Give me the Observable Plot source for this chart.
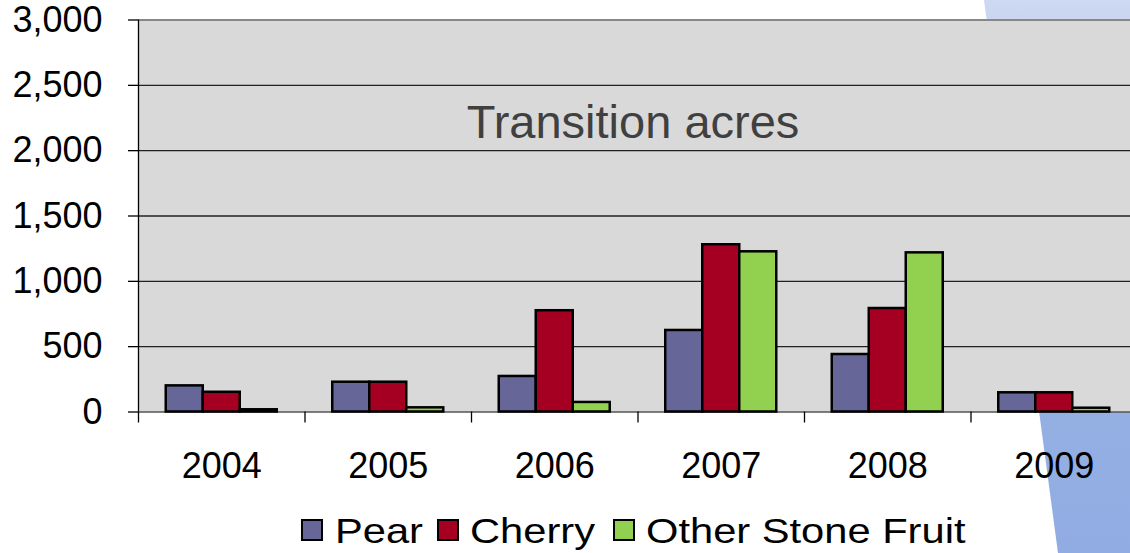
<!DOCTYPE html>
<html>
<head>
<meta charset="utf-8">
<script src="https://cdn.jsdelivr.net/npm/d3@7"></script>
<script src="https://cdn.jsdelivr.net/npm/@observablehq/plot@0.6"></script>
<style>
  html, body { margin: 0; padding: 0; background: #fff; }
  #wrap { position: relative; width: 1130px; height: 553px; overflow: hidden; font-family: "Liberation Sans", Arial, sans-serif; }
  #bg { position: absolute; left: 0; top: 0; }
  #chart { position: absolute; left: 0; top: 0; width: 1141px; }
  #chart svg { max-width: none !important; width: 1141px; height: 490px; }
  #legend { position: absolute; left: 0; top: 0; width: 1130px; height: 553px; pointer-events: none; }
  .sw { position: absolute; top: 519px; width: 18px; height: 18px; border: 2.5px solid #000; }
  .lt { position: absolute; top: 511px; font-size: 35px; line-height: 40px; transform: scaleX(1.19); transform-origin: left center; white-space: nowrap; color: #000; }
</style>
</head>
<body>
<div id="wrap">
  <svg id="bg" width="1130" height="553">
    <defs>
      <linearGradient id="g" x1="0" y1="0" x2="0" y2="1">
        <stop offset="0" stop-color="#cdd8f1"/>
        <stop offset="0.7" stop-color="#95b0e3"/>
        <stop offset="1" stop-color="#90ace2"/>
      </linearGradient>
    </defs>
    <polygon points="984,0 1130,0 1130,553 1058,553" fill="url(#g)"/>
  </svg>
  <div id="chart"></div>
  <div id="legend"></div>
</div>
<script>
// ---- data ----
const years = ["2004", "2005", "2006", "2007", "2008", "2009"];
const series = ["Pear", "Cherry", "Other Stone Fruit"];
const pear = [200, 228, 272, 624, 440, 147];
const cherry = [151, 228, 775, 1280, 792, 147];
const other = [17, 32, 73, 1226, 1218, 29];
const yTicks = [0, 500, 1000, 1500, 2000, 2500, 3000];
const title = "Transition acres";

// ---- styles ----
const colors = ["#666699", "#a50021", "#92d050"];

// ---- build table ----
const values = [pear, cherry, other];
const groupPad = 1 / 6, barW = 2 / 9;
const table = [];
years.forEach((yr, i) => {
  series.forEach((s, k) => {
    table.push({ year: yr, series: s, value: values[k][i],
      x1: i + groupPad + k * barW, x2: i + groupPad + (k + 1) * barW });
  });
});

const chart = Plot.plot({
  width: 1141,
  height: 490,
  marginLeft: 138,
  marginRight: 4,
  marginTop: 19.5,
  marginBottom: 78.5,
  style: { fontFamily: "'Liberation Sans', Arial, sans-serif", fontSize: "36px", color: "#000", background: "transparent", overflow: "visible" },
  x: { type: "linear", domain: [0, years.length] },
  y: { domain: [0, 3000] },
  color: { domain: series, range: colors },
  marks: [
    Plot.frame({ fill: "#d9d9d9", stroke: null }),
    Plot.ruleY(yTicks.filter(d => d > 0 && d < 3000), { stroke: "#222", strokeWidth: 1.3 }),
    Plot.ruleY([3000], { stroke: "#888", strokeWidth: 2 }),
    Plot.ruleY([0], { stroke: "#555", strokeWidth: 1.5 }),
    Plot.rectY(table, { x1: "x1", x2: "x2", y: "value", fill: "series", stroke: "#000", strokeWidth: 2.5 }),
    Plot.ruleX([0], { stroke: "#000", strokeWidth: 1.3 }),
    Plot.axisY({ ticks: yTicks, tickSize: 10, tickPadding: 26, tickFormat: d3.format(","), fontSize: 36, label: null, strokeWidth: 1.3 }),
    Plot.axisX({ ticks: d3.range(0, years.length + 1), tickSize: 11, tickFormat: () => "", label: null, strokeWidth: 1.3 }),
    Plot.axisX({ ticks: years.map((d, i) => i + 0.5), tickSize: 0, tickPadding: 40.6, tickFormat: v => years[Math.floor(v)], fontSize: 36, label: null }),
    Plot.text([title], { frameAnchor: "top", dx: -5, dy: 103, lineAnchor: "middle", fontSize: 47, fill: "#404040" })
  ]
});
document.getElementById("chart").appendChild(chart);

// ---- legend ----
const legend = document.getElementById("legend");
const swX = [301, 437, 613];
const txX = [335, 470, 646];
series.forEach((s, k) => {
  const sw = document.createElement("div");
  sw.className = "sw";
  sw.style.left = swX[k] + "px";
  sw.style.background = colors[k];
  legend.appendChild(sw);
  const t = document.createElement("div");
  t.className = "lt";
  t.style.left = txX[k] + "px";
  t.textContent = s;
  legend.appendChild(t);
});
</script>
</body>
</html>
